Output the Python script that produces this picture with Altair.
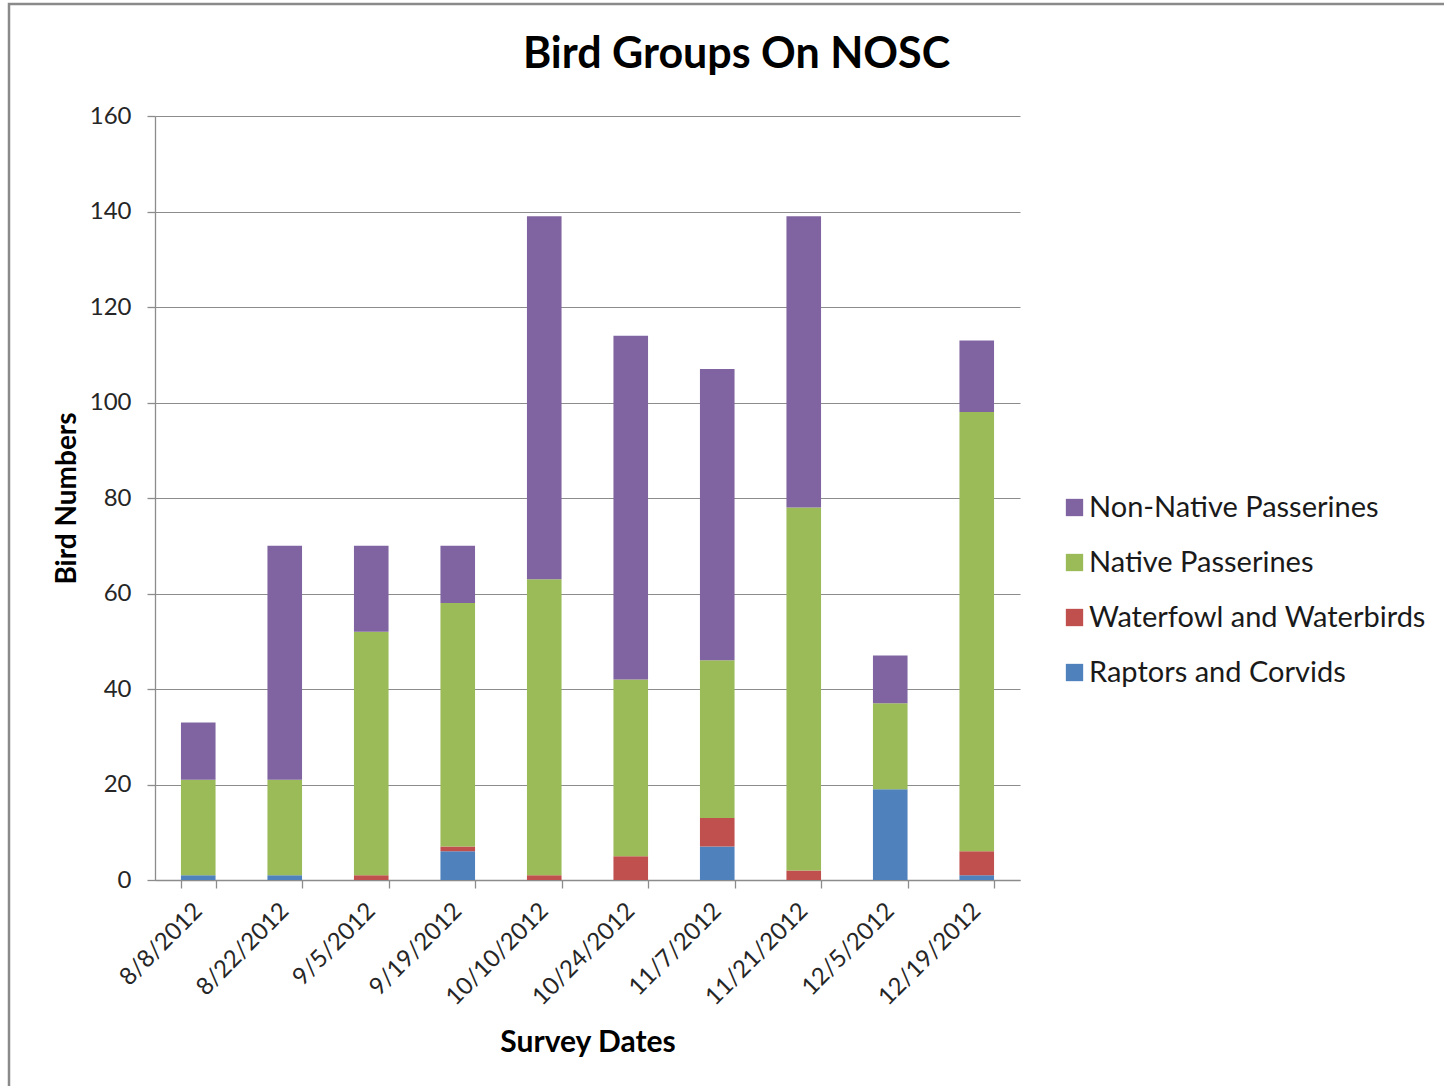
import altair as alt
import pandas as pd

# Survey dates and bird counts per group
dates = ["8/8/2012", "8/22/2012", "9/5/2012", "9/19/2012", "10/10/2012",
         "10/24/2012", "11/7/2012", "11/21/2012", "12/5/2012", "12/19/2012"]
raptors = [1, 1, 0, 6, 0, 0, 7, 0, 19, 1]
waterfowl = [0, 0, 1, 1, 1, 5, 6, 2, 0, 5]
native = [20, 20, 51, 51, 62, 37, 33, 76, 18, 92]
non_native = [12, 49, 18, 12, 76, 72, 61, 61, 10, 15]

groups = ["Raptors and Corvids", "Waterfowl and Waterbirds",
          "Native Passerines", "Non-Native Passerines"]
series = [raptors, waterfowl, native, non_native]
colors = {"Non-Native Passerines": "#8064A2", "Native Passerines": "#9BBB59",
          "Waterfowl and Waterbirds": "#C0504D", "Raptors and Corvids": "#4F81BD"}

rows = []
for gi, (g, vals) in enumerate(zip(groups, series)):
    for d, v in zip(dates, vals):
        rows.append({"date": d, "group": g, "count": v, "stack": gi})
df = pd.DataFrame(rows)

legend_order = groups[::-1]
FONT = "Lato"
GRID = "#8c8c8c"
W, H = 865, 764

bars = alt.Chart(df).mark_bar().encode(
    x=alt.X("date:N", sort=dates,
            scale=alt.Scale(paddingInner=0.6, paddingOuter=0.3),
            axis=alt.Axis(title="Survey Dates", labelAngle=-45, labelAlign="right",
                          labelBaseline="middle", labelPadding=19, tickBand="extent",
                          tickSize=8, titleFontSize=30, titlePadding=18)),
    y=alt.Y("count:Q", stack="zero",
            scale=alt.Scale(domain=[0, 160], nice=False),
            axis=alt.Axis(title="Bird Numbers", values=list(range(0, 161, 20)),
                          grid=True, tickSize=8, labelPadding=16, titleFontSize=28,
                          titleX=-80, titleY=H / 2, titleBaseline="alphabetic")),
    color=alt.Color("group:N",
                    scale=alt.Scale(domain=legend_order,
                                    range=[colors[g] for g in legend_order]),
                    legend=alt.Legend(title=None, orient="none", legendX=905, legendY=377,
                                      symbolType="square", symbolSize=300,
                                      symbolStrokeWidth=0, labelFontSize=29,
                                      labelOffset=0, rowPadding=25, labelLimit=500)),
    order=alt.Order("stack:Q", sort="ascending"),
)

# Outer frame around the chart
frame = alt.Chart(pd.DataFrame({"f": [0]})).mark_rect(
    fill=None, stroke="#8a8a8a", strokeWidth=2.5
).encode(
    x=alt.value(-146), x2=alt.value(1320),
    y=alt.value(-112), y2=alt.value(1000),
)

chart = alt.layer(frame, bars).properties(
    width=W, height=H,
    title=alt.TitleParams("Bird Groups On NOSC", fontSize=43, fontWeight="bold",
                          font=FONT, color="#000000", anchor="middle", dx=149,
                          offset=-74),
    autosize=alt.AutoSizeParams(type="none"),
    padding={"left": 155, "top": 116, "right": 424, "bottom": 206},
).configure_view(stroke=None).configure_axis(
    labelFont=FONT, titleFont=FONT, labelFontSize=24, labelColor="#262626",
    titleColor="#000000", titleFontWeight="bold",
    domainColor=GRID, tickColor=GRID, gridColor=GRID, domainWidth=1.3,
    gridWidth=1.2, tickWidth=1.3,
).configure_legend(labelFont=FONT, labelColor="#1a1a1a")

chart.save("out.html", embed_options={"renderer": "svg", "actions": False})
